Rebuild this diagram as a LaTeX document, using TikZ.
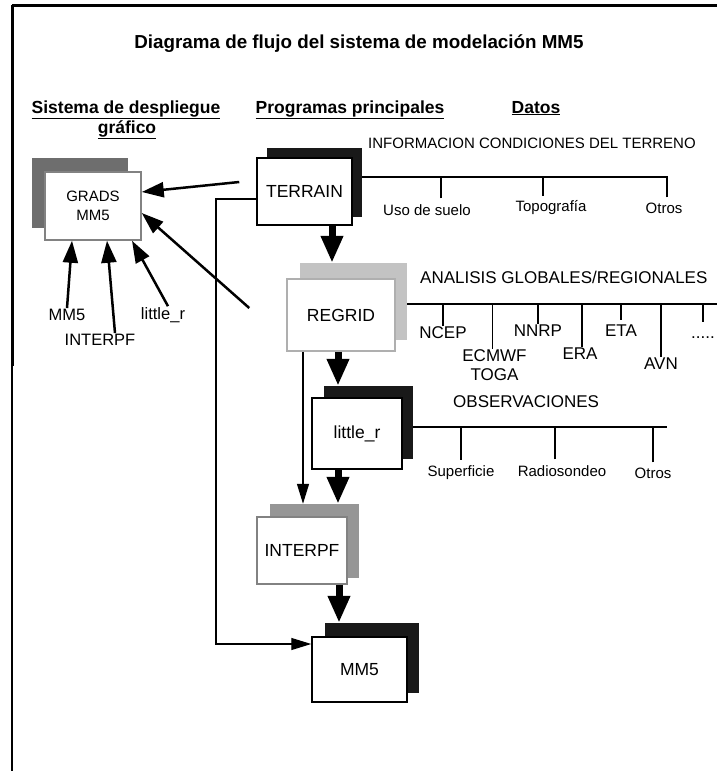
\documentclass[tikz,border=0pt]{standalone}
\usepackage{fontspec}
\setmainfont{Liberation Sans}
\usetikzlibrary{arrows.meta,positioning}
\definecolor{ShadowDark}{RGB}{25,25,25}
\definecolor{ShadowGray}{RGB}{110,110,110}
\definecolor{ShadowMid}{RGB}{150,150,150}
\definecolor{ShadowLight}{RGB}{195,195,195}
\definecolor{EdgeLight}{RGB}{175,175,175}
\definecolor{EdgeMid}{RGB}{130,130,130}

\begin{document}
\begin{tikzpicture}[x=1pt,y=-1pt,
  box/.style={draw=black,fill=white,line width=1.5pt,inner sep=0pt,
              font=\fontsize{17.5}{20}\selectfont},
  shd/.style={fill=#1,draw=none,inner sep=0pt},
  hdr/.style={font=\bfseries\fontsize{17.5}{20}\selectfont,anchor=base,inner sep=0pt},
  lbl/.style={font=\fontsize{15}{18}\selectfont,inner sep=1pt},
  lblb/.style={font=\fontsize{17}{19}\selectfont,inner sep=1pt,align=center},
  bus/.style={line width=1.3pt},
  fat/.style={line width=7pt,-{Triangle[length=27pt,width=21pt]}},
  garr/.style={line width=2.5pt,-{Triangle[length=22pt,width=15pt]}},
  tarr/.style={line width=1.3pt,-{Triangle[length=20pt,width=12pt]}},
]
\useasboundingbox (0,0) rectangle (717,774);
\draw[line width=3pt] (12,5) -- (717,5);
\draw[line width=3pt] (12,5) -- (12,366);
\draw[line width=1.5pt] (12,366) -- (12,771);

\node[font=\bfseries\fontsize{18.8}{22}\selectfont,anchor=base] (title) at (359,48)
  {Diagrama de flujo del sistema de modelación MM5};
\node[hdr] (hsis) at (126,113) {\underline{Sistema de despliegue}};
\node[hdr] (hgraf) at (127,133) {\underline{gráfico}};
\node[hdr] (hprog) at (350,113) {\underline{Programas principales}};
\node[hdr] (hdat) at (536,113) {\underline{Datos}};

\node[shd=ShadowGray,minimum width=96pt,minimum height=70pt] (gradsB) at (80,193) {};
\node[box,draw=EdgeMid,minimum width=96pt,minimum height=68pt,align=center,
      font=\fontsize{15}{19}\selectfont] (grads) at (93,206) {GRADS\\MM5};
\node[shd=ShadowDark,minimum width=95pt,minimum height=69pt] (terrainB) at (314.5,182.5) {};
\node[box,minimum width=95pt,minimum height=67pt] (terrain) at (304.5,191.5) {TERRAIN};
\node[shd=ShadowLight,minimum width=107pt,minimum height=77pt] (regridB) at (353.5,301.5) {};
\node[box,draw=EdgeLight,minimum width=108pt,minimum height=72pt] (regrid) at (341,315) {REGRID};
\node[shd=ShadowDark,minimum width=89pt,minimum height=73pt] (littleB) at (368.5,422.5) {};
\node[box,minimum width=90pt,minimum height=71pt] (little) at (357,433.5) {little\_r};
\node[shd=ShadowMid,minimum width=89pt,minimum height=74pt] (interpfB) at (314.5,541) {};
\node[box,draw=EdgeMid,minimum width=90pt,minimum height=67pt] (interpf) at (302,550.5) {INTERPF};
\node[shd=ShadowDark,minimum width=94pt,minimum height=70pt] (mm5B) at (372,658) {};
\node[box,minimum width=95pt,minimum height=65pt] (mm5) at (359.5,669.5) {MM5};

\draw[fat] ([xshift=27.5pt]terrain.south) -- ([xshift=27.5pt]terrain.south |- regridB.north);
\draw[fat] ([xshift=-3pt]regrid.south) -- ([xshift=-3pt]regrid.south |- littleB.north);
\draw[fat] ([xshift=-19pt]little.south) -- ([xshift=-19pt]little.south |- interpfB.north);
\draw[fat] ([xshift=37pt]interpf.south) -- ([xshift=37pt]interpf.south |- mm5B.north);

\coordinate (rail) at (216,0);
\coordinate (mm5in) at ([yshift=25.5pt]mm5.west);
\draw[tarr] ([yshift=-7.5pt]terrain.west) -| (rail |- mm5in) -- (mm5in);
\draw[tarr] ([xshift=-38pt]regrid.south) -- ([xshift=-38pt]regrid.south |- interpfB.north);

\draw[garr] ([xshift=-17pt,yshift=9.5pt]terrain.west) -- ([yshift=14pt]grads.east);
\draw[garr] ([xshift=-37pt,yshift=7pt]regrid.west) -- ([yshift=-7pt]grads.east);
\node[font=\fontsize{16.5}{18}\selectfont,inner sep=1pt] (gmm5) at (67,315) {MM5};
\node[font=\fontsize{16.5}{18}\selectfont,inner sep=1pt] (ginterpf) at (100,340) {INTERPF};
\node[font=\fontsize{16.5}{18}\selectfont,inner sep=1pt] (glittle) at (163,315) {little\_r};
\draw[garr] (gmm5.north) -- ([xshift=-21pt]grads.south);
\draw[garr] ([xshift=15pt]ginterpf.north) -- ([xshift=14pt]grads.south);
\draw[garr] ([xshift=5pt]glittle.north) -- ([xshift=39pt]grads.south);

\node[font=\fontsize{15}{18}\selectfont,anchor=west,inner sep=0pt] (tinfo) at (368,143)
  {INFORMACION CONDICIONES DEL TERRENO};
\coordinate (tbusend) at (668,177);
\draw[bus] ([yshift=5.5pt]terrainB.east) -- (tbusend);
\node[lbl] (uso) at (427,210) {Uso de suelo};
\node[lbl] (topo) at (551,208) {Topografía};
\node[lbl] (otros1) at (664,208) {Otros};
\draw[bus] ([xshift=14pt,yshift=5pt]uso.north) -- ([xshift=14pt]uso.north |- tbusend);
\draw[bus] ([xshift=-8pt,yshift=4pt]topo.north) -- ([xshift=-8pt]topo.north |- tbusend);
\draw[bus] ([xshift=3pt,yshift=4pt]otros1.north) -- ([xshift=3pt]otros1.north |- tbusend);

\node[font=\fontsize{17}{20}\selectfont,anchor=west,inner sep=0pt] (tanal) at (420,277)
  {ANALISIS GLOBALES/REGIONALES};
\coordinate (rbusend) at (717,304);
\draw[bus] ([yshift=-2.5pt]regridB.east) -- (rbusend);
\node[lblb] (ncep) at (443,333) {NCEP};
\node[lblb] (ecmwf) at (494.5,365.5) {ECMWF\\TOGA};
\node[lblb] (nnrp) at (538,331) {NNRP};
\node[lblb] (era) at (580,354) {ERA};
\node[lblb] (eta) at (621,331) {ETA};
\node[lblb] (avn) at (661,364) {AVN};
\node[lblb] (etc) at (703,338) {.....};
\draw[bus] (ncep.north) -- (ncep.north |- rbusend);
\draw[bus] ([xshift=-2pt]ecmwf.north) -- ([xshift=-2pt]ecmwf.north |- rbusend);
\draw[bus] (nnrp.north) -- (nnrp.north |- rbusend);
\draw[bus] ([xshift=2pt]era.north) -- ([xshift=2pt]era.north |- rbusend);
\draw[bus] ([yshift=4pt]eta.north) -- (eta.north |- rbusend);
\draw[bus] (avn.north) -- (avn.north |- rbusend);
\draw[bus] ([yshift=14pt]etc.north) -- (etc.north |- rbusend);

\node[font=\fontsize{17}{20}\selectfont,anchor=west,inner sep=0pt] (tobs) at (453,402)
  {OBSERVACIONES};
\coordinate (obusend) at (667,427);
\draw[bus] ([yshift=-4.5pt]littleB.east) -- (obusend);
\node[lbl] (sup) at (461,473) {Superficie};
\node[lbl] (radio) at (562,471) {Radiosondeo};
\node[lbl] (otros2) at (653,473) {Otros};
\draw[bus] ([yshift=5pt]sup.north) -- (sup.north |- obusend);
\draw[bus] ([xshift=-7pt,yshift=5pt]radio.north) -- ([xshift=-7pt]radio.north |- obusend);
\draw[bus] ([yshift=4pt]otros2.north) -- (otros2.north |- obusend);
\end{tikzpicture}
\end{document}
